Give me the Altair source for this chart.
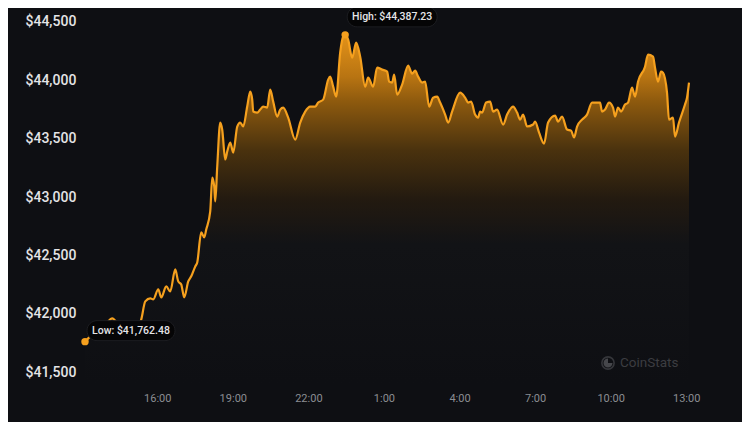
import altair as alt
import pandas as pd

# hours elapsed since 13:00 (day 1)
hours = [0.131, 0.42, 0.738, 0.976, 1.214, 1.452, 1.73, 2.008, 2.246, 2.365,
         2.524, 2.722, 2.841, 3.04, 3.159, 3.357, 3.516, 3.714, 3.833, 3.952,
         4.071, 4.23, 4.349, 4.508, 4.587, 4.746, 4.865, 4.944, 5.103, 5.183,
         5.262, 5.302, 5.381, 5.5, 5.579, 5.698, 5.778, 5.897, 6.016, 6.175,
         6.294, 6.413, 6.571, 6.69, 6.77, 6.81, 6.968, 7.087, 7.206, 7.365,
         7.484, 7.603, 7.762, 7.881, 8.0, 8.198, 8.476, 8.675, 8.873, 9.071,
         9.27, 9.389, 9.587, 9.786, 9.865, 9.984, 10.103, 10.262, 10.381, 10.46,
         10.579, 10.738, 10.897, 11.056, 11.254, 11.373, 11.571, 11.73, 11.929, 12.127,
         12.206, 12.325, 12.405, 12.524, 12.722, 12.96, 13.119, 13.238, 13.357, 13.516,
         13.635, 13.794, 13.952, 14.111, 14.23, 14.429, 14.548, 14.706, 15.024, 15.222,
         15.341, 15.46, 15.619, 15.738, 15.817, 15.897, 16.056, 16.214, 16.333, 16.492,
         16.73, 16.889, 17.127, 17.286, 17.405, 17.524, 17.683, 17.921, 18.0, 18.159,
         18.357, 18.516, 18.794, 18.913, 19.071, 19.27, 19.429, 19.548, 19.667, 19.865,
         20.063, 20.262, 20.46, 20.579, 20.659, 20.778, 20.937, 21.095, 21.175, 21.294,
         21.413, 21.571, 21.69, 21.849, 21.968, 22.087, 22.365, 22.484, 22.683, 22.762,
         22.881, 23.0, 23.079, 23.238, 23.317, 23.476, 23.556, 23.714, 23.952, 24.032,
         24.111]

price = [41762.48, 41825, 41885, 41919, 41962, 41910, 41868, 41850, 41885, 41953,
         42107, 42133, 42124, 42209, 42141, 42235, 42192, 42380, 42278, 42252,
         42141, 42278, 42321, 42406, 42440, 42697, 42654, 42722, 42876, 43167,
         43090, 42962, 43261, 43637, 43577, 43321, 43389, 43466, 43380, 43603,
         43637, 43603, 43774, 43902, 43833, 43731, 43722, 43748, 43774, 43765,
         43919, 43816, 43688, 43748, 43765, 43679, 43491, 43637, 43731, 43774,
         43774, 43808, 43833, 44004, 44030, 43944, 43859, 44235, 44372, 44387.23,
         44346, 44192, 44321, 44201, 43944, 44021, 43944, 44107, 44090, 44073,
         43987, 43979, 44047, 43876, 43962, 44124, 44056, 44081, 44030, 43979,
         43987, 43774, 43850, 43859, 43808, 43705, 43637, 43731, 43893, 43850,
         43808, 43816, 43705, 43679, 43731, 43722, 43808, 43816, 43731, 43748,
         43620, 43705, 43774, 43722, 43662, 43705, 43603, 43620, 43645, 43551,
         43457, 43637, 43697, 43645, 43688, 43577, 43568, 43509, 43603, 43662,
         43705, 43808, 43808, 43808, 43731, 43748, 43808, 43765, 43688, 43765,
         43731, 43791, 43808, 43936, 43859, 43987, 44115, 44218, 44201, 44107,
         43987, 44073, 44064, 43893, 43662, 43679, 43517, 43637, 43791, 43850,
         43979]

y_ticks = [41500, 42000, 42500, 43000, 43500, 44000, 44500]
x_ticks = [3, 6, 9, 12, 15, 18, 21, 24]

BG = "#0e0f13"
ORANGE = "#f5a01e"

df = pd.DataFrame({"h": hours, "price": price})
lo = df.loc[df["price"].idxmin()]
hi = df.loc[df["price"].idxmax()]
ext = pd.DataFrame({
    "h": [lo["h"], hi["h"]],
    "price": [lo["price"], hi["price"]],
    "label": [f"Low: ${lo['price']:,.2f}", f"High: ${hi['price']:,.2f}"],
})
lo_df = ext.iloc[[0]]
hi_df = ext.iloc[[1]]

xs = alt.Scale(domain=[min(hours), max(hours)], nice=False, zero=False)
ys = alt.Scale(domain=[41400, 44600], nice=False, zero=False)

X = alt.X("h:Q", scale=xs, axis=alt.Axis(
    values=x_ticks, labelExpr="((datum.value + 13) % 24) + ':00'",
    labelColor="#8b8d92", labelFontSize=11, labelFont="Roboto",
    labelPadding=8, title=None, grid=False, domain=False, ticks=False))
Y = alt.Y("price:Q", scale=ys, axis=alt.Axis(
    values=y_ticks, format="$,.0f", labelColor="#e4e4e6", labelFontSize=14,
    labelFont="Roboto", labelFontWeight=500, labelAlign="left", labelPadding=60,
    labelBaseline="middle", title=None, grid=False, domain=False, ticks=False))

grad = alt.Gradient(
    gradient="linear",
    stops=[
        alt.GradientStop(color="#e39219", offset=0),
        alt.GradientStop(color="#b87412", offset=0.12),
        alt.GradientStop(color="#8e5a0e", offset=0.19),
        alt.GradientStop(color="#4a320e", offset=0.33),
        alt.GradientStop(color="#231a10", offset=0.47),
        alt.GradientStop(color="#121316", offset=0.6),
        alt.GradientStop(color=BG, offset=1),
    ],
    x1=1, x2=1, y1=0, y2=1,
)

area = alt.Chart(df).mark_area(color=grad, interpolate="monotone").encode(
    x=X, y=Y, y2=alt.datum(41400))
line = alt.Chart(df).mark_line(color=ORANGE, strokeWidth=2.2,
                               interpolate="monotone").encode(x=X, y=Y)

lo_box = alt.Chart(lo_df).mark_rect(
    color="#050506", stroke="#1c1d21", strokeWidth=1, cornerRadius=10,
    xOffset=2, x2Offset=90, yOffset=-21, y2Offset=-1).encode(
    x=alt.X("h:Q", scale=xs), x2="h:Q", y=alt.Y("price:Q", scale=ys), y2="price:Q")
hi_box = alt.Chart(hi_df).mark_rect(
    color="#050506", stroke="#1c1d21", strokeWidth=1, cornerRadius=10,
    xOffset=2, x2Offset=92, yOffset=-28, y2Offset=-8).encode(
    x=alt.X("h:Q", scale=xs), x2="h:Q", y=alt.Y("price:Q", scale=ys), y2="price:Q")
lo_txt = alt.Chart(lo_df).mark_text(
    color="#e4e4e6", font="Roboto", fontSize=10.5, fontWeight=500, dx=46, dy=-11,
    align="center", baseline="middle").encode(
    x=alt.X("h:Q", scale=xs), y=alt.Y("price:Q", scale=ys), text="label:N")
hi_txt = alt.Chart(hi_df).mark_text(
    color="#e4e4e6", font="Roboto", fontSize=10.5, fontWeight=500, dx=47, dy=-18,
    align="center", baseline="middle").encode(
    x=alt.X("h:Q", scale=xs), y=alt.Y("price:Q", scale=ys), text="label:N")
dots = alt.Chart(ext).mark_circle(color=ORANGE, size=55, opacity=1).encode(
    x=alt.X("h:Q", scale=xs), y=alt.Y("price:Q", scale=ys))

wm = pd.DataFrame({"t": ["CoinStats"]})
wm_ring = alt.Chart(wm).mark_point(shape="circle", filled=False, color="#46474b",
                                   strokeWidth=1.6, size=150).encode(
    x=alt.value(523), y=alt.value(353))
wm_fill = alt.Chart(wm).mark_arc(color="#46474b", radius=4.5, theta=1.5708, theta2=6.2832).encode(
    x=alt.value(523), y=alt.value(353))
wm_txt = alt.Chart(wm).mark_text(color="#3c3d41", font="Roboto", fontSize=13.5,
                                 align="left", baseline="middle").encode(
    x=alt.value(535), y=alt.value(353), text="t:N")

chart = alt.layer(area, line, lo_box, hi_box, lo_txt, hi_txt, dots,
                  wm_ring, wm_fill, wm_txt).properties(
    width=604, height=374,
    background=BG,
    autosize=alt.AutoSizeParams(type="none"),
    padding={"left": 77, "top": 2, "right": 53, "bottom": 38},
).configure_view(stroke=None)

chart.save("out.html", embed_options={"renderer": "svg", "actions": False})
